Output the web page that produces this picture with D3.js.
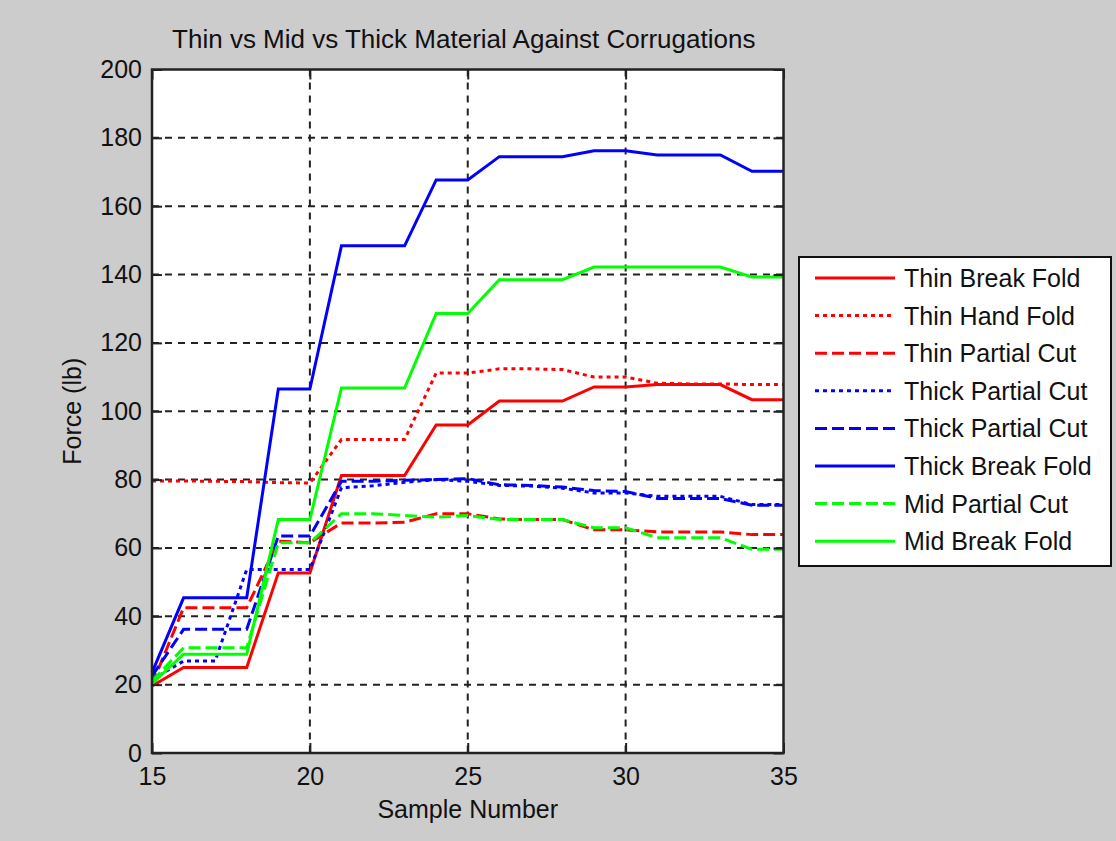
<!DOCTYPE html>
<html>
<head>
<meta charset="utf-8">
<script src="https://cdn.jsdelivr.net/npm/d3@7"></script>
<style>
  html, body { margin: 0; padding: 0; background: #cccccc; }
  svg { display: block; }
  text { font-family: "Liberation Sans", Arial, sans-serif; fill: #111; }
</style>
</head>
<body>
<svg id="chart" width="1116" height="841"></svg>
<script>
// Sample numbers along the x axis
const samples = [15, 16, 17, 18, 19, 20, 21, 22, 23, 24, 25, 26, 27, 28, 29, 30, 31, 32, 33, 34, 35];

// Force (lb) per sample for each test series
const thinBreakFold   = [19.6, 25, 25, 25, 52.7, 52.7, 81.2, 81.2, 81.2, 96, 96, 103, 103, 103, 107.1, 107.1, 107.8, 107.8, 107.8, 103.4, 103.4];
const thinHandFold    = [79.6, 79.6, 79.5, 79.4, 79.1, 79.0, 91.7, 91.7, 91.7, 111.2, 111.2, 112.4, 112.4, 112.2, 110, 110, 108.2, 108, 108, 107.8, 107.8];
const thinPartialCut  = [20, 42.5, 42.5, 42.5, 62, 61.5, 67.3, 67.3, 67.5, 70, 70, 68.5, 68.3, 68.3, 65.3, 65.3, 64.7, 64.7, 64.7, 63.9, 63.9];
const thickPartialCutA = [21.5, 26.9, 26.9, 53.7, 53.7, 53.7, 77.6, 78.2, 79.2, 80, 79.5, 78.3, 78.1, 77.5, 76.1, 76.1, 75.1, 75.1, 75.1, 72.7, 72.7];
const thickPartialCutB = [22.5, 36.2, 36.2, 36.2, 63.5, 63.5, 79.5, 79.5, 79.8, 80, 80.3, 78.5, 78.3, 77.8, 76.8, 76.5, 74.5, 74.5, 74.5, 72.5, 72.5];
const thickBreakFold  = [23.5, 45.4, 45.4, 45.4, 106.5, 106.5, 148.4, 148.4, 148.4, 167.7, 167.7, 174.5, 174.5, 174.5, 176.2, 176.2, 175, 175, 175, 170.2, 170.2];
const midPartialCut   = [21, 30.8, 30.8, 30.8, 61.5, 61.5, 70, 70, 69.5, 69, 69.5, 68.3, 68.3, 68.3, 65.9, 65.9, 63, 63, 63, 59.6, 59.6];
const midBreakFold    = [20.3, 28.9, 28.9, 28.9, 68.3, 68.3, 106.8, 106.8, 106.8, 128.6, 128.6, 138.5, 138.5, 138.5, 142.2, 142.2, 142.2, 142.2, 142.2, 139.3, 139.3];

const seriesNames = ["Thin Break Fold", "Thin Hand Fold", "Thin Partial Cut", "Thick Partial Cut",
                     "Thick Partial Cut", "Thick Break Fold", "Mid Partial Cut", "Mid Break Fold"];
const seriesValues = [thinBreakFold, thinHandFold, thinPartialCut, thickPartialCutA,
                      thickPartialCutB, thickBreakFold, midPartialCut, midBreakFold];

const xTicks = [15, 20, 25, 30, 35];
const yTicks = [0, 20, 40, 60, 80, 100, 120, 140, 160, 180, 200];

const titleText = "Thin vs Mid vs Thick Material Against Corrugations";
const xLabel = "Sample Number";
const yLabel = "Force (lb)";

// Line styling per series
const colors = ["#ff0000", "#ff0000", "#ff0000", "#0000ff", "#0000ff", "#0000ff", "#00ff00", "#00ff00"];
const SOLID = null, DOTTED = "4,4", DASHED = "12,5";
const dashes = [SOLID, DOTTED, DASHED, DOTTED, DASHED, SOLID, DASHED, SOLID];

const svg = d3.select("#chart");
const plot = { left: 152, right: 783.5, top: 69.5, bottom: 753 };

const x = d3.scaleLinear().domain([15, 35]).range([plot.left, plot.right]);
const y = d3.scaleLinear().domain([0, 200]).range([plot.bottom, plot.top]);

// Plot area background
svg.append("rect")
  .attr("x", plot.left).attr("y", plot.top)
  .attr("width", plot.right - plot.left).attr("height", plot.bottom - plot.top)
  .attr("fill", "#ffffff");

// Grid lines
const grid = svg.append("g").attr("stroke", "#222").attr("stroke-width", 2).attr("stroke-dasharray", "7,6");
grid.selectAll("line.gx").data(xTicks.slice(1, -1)).join("line")
  .attr("x1", d => x(d)).attr("x2", d => x(d))
  .attr("y1", plot.top).attr("y2", plot.bottom);
grid.selectAll("line.gy").data(yTicks.slice(1, -1)).join("line")
  .attr("x1", plot.left).attr("x2", plot.right)
  .attr("y1", d => y(d)).attr("y2", d => y(d));

// Data lines
const line = d3.line().x((d, i) => x(samples[i])).y(d => y(d));
svg.append("g").selectAll("path").data(seriesValues).join("path")
  .attr("d", d => line(d))
  .attr("fill", "none")
  .attr("stroke", (d, i) => colors[i])
  .attr("stroke-width", 3)
  .attr("stroke-linejoin", "miter")
  .attr("stroke-dasharray", (d, i) => dashes[i]);

// Axes with inward ticks
const tickFont = 25;
const styleAxis = g => {
  g.select(".domain").remove();
  g.selectAll(".tick line").attr("stroke", "#222").attr("stroke-width", 2);
  g.selectAll(".tick text").attr("font-size", tickFont).attr("fill", "#111")
    .attr("font-family", '"Liberation Sans", Arial, sans-serif');
};
svg.append("g").attr("transform", `translate(0,${plot.bottom})`)
  .call(d3.axisBottom(x).tickValues(xTicks).tickSize(-10).tickPadding(14).tickFormat(d3.format("d")))
  .call(styleAxis);
svg.append("g").attr("transform", `translate(${plot.left},0)`)
  .call(d3.axisLeft(y).tickValues(yTicks).tickSize(-10).tickPadding(10).tickFormat(d3.format("d")))
  .call(styleAxis);
svg.append("g").attr("transform", `translate(0,${plot.top})`)
  .call(d3.axisTop(x).tickValues(xTicks).tickSize(-10).tickFormat(""))
  .call(styleAxis);
svg.append("g").attr("transform", `translate(${plot.right},0)`)
  .call(d3.axisRight(y).tickValues(yTicks).tickSize(-10).tickFormat(""))
  .call(styleAxis);

// Axes frame
svg.append("rect")
  .attr("x", plot.left).attr("y", plot.top)
  .attr("width", plot.right - plot.left).attr("height", plot.bottom - plot.top)
  .attr("fill", "none").attr("stroke", "#222").attr("stroke-width", 2.5);

// Title and axis labels
const midX = (plot.left + plot.right) / 2;
svg.append("text").attr("x", midX - 4).attr("y", 48).attr("text-anchor", "middle")
  .attr("font-size", 26).text(titleText);
svg.append("text").attr("x", midX).attr("y", 818).attr("text-anchor", "middle")
  .attr("font-size", 25).text(xLabel);
svg.append("text").attr("transform", `translate(81,${(plot.top + plot.bottom) / 2}) rotate(-90)`)
  .attr("text-anchor", "middle").attr("font-size", 25).text(yLabel);

// Legend
const legend = { left: 799, top: 257, width: 312, height: 309, rowStart: 278, rowStep: 37.6 };
const lg = svg.append("g");
lg.append("rect")
  .attr("x", legend.left).attr("y", legend.top)
  .attr("width", legend.width).attr("height", legend.height)
  .attr("fill", "#ffffff").attr("stroke", "#111").attr("stroke-width", 2);
const rows = lg.selectAll("g.row").data(seriesNames).join("g")
  .attr("transform", (d, i) => `translate(0,${legend.rowStart + i * legend.rowStep})`);
rows.append("line")
  .attr("x1", 815).attr("x2", 895).attr("y1", 0).attr("y2", 0)
  .attr("stroke", (d, i) => colors[i]).attr("stroke-width", 3)
  .attr("stroke-dasharray", (d, i) => dashes[i]);
rows.append("text").attr("x", 904).attr("y", 9).attr("font-size", 25).text(d => d);
</script>
</body>
</html>
